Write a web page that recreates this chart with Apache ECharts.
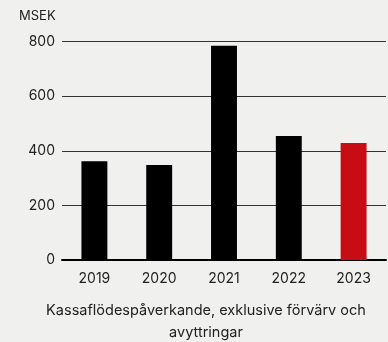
<!DOCTYPE html>
<html>
<head>
<meta charset="utf-8">
<style>
  html, body { margin: 0; padding: 0; background: #f0f0ee; }
  #chart { width: 388px; height: 342px; }
</style>
<script src="https://cdn.jsdelivr.net/npm/echarts@6/dist/echarts.min.js"></script>
</head>
<body>
<div id="chart"></div>
<script>
// Cash-flow impacting figures, excluding acquisitions and divestments (MSEK)
const years = ['2019', '2020', '2021', '2022', '2023'];
const values = [362, 348, 784, 454, 428];
const unitLabel = 'MSEK';
const caption = 'Kassaflödespåverkande, exklusive förvärv och\navyttringar';

const barColor = '#000000';
const highlightColor = '#c70c14';
const font = 'Inter, Roboto, sans-serif';

const chart = echarts.init(document.getElementById('chart'));
chart.setOption({
  backgroundColor: '#f0f0ee',
  animation: false,
  textStyle: { fontFamily: font },
  title: [
    {
      text: unitLabel, left: 19, top: 10, padding: 0,
      textStyle: { fontSize: 13, fontWeight: 'normal', color: '#222', fontFamily: font }
    },
    {
      text: caption, left: 206, top: 300, padding: 0, textAlign: 'center',
      textStyle: { fontSize: 14.5, fontWeight: 'normal', color: '#222', lineHeight: 22, fontFamily: font }
    }
  ],
  grid: { left: 62, right: 2, top: 41.5, bottom: 82, containLabel: false },
  xAxis: {
    type: 'category',
    data: years,
    axisLine: { show: true, lineStyle: { color: '#000', width: 2 } },
    axisTick: { show: false },
    axisLabel: { fontSize: 14, color: '#222', margin: 12, fontFamily: font }
  },
  yAxis: {
    type: 'value',
    min: 0, max: 800, interval: 200,
    axisLine: { show: false },
    axisTick: { show: false },
    axisLabel: { fontSize: 14, color: '#222', margin: 7, fontFamily: font },
    splitLine: { lineStyle: { color: '#333', width: 1 } }
  },
  series: [{
    type: 'bar',
    barWidth: '40%',
    data: values.map((v, i) => ({
      value: v,
      itemStyle: { color: i === values.length - 1 ? highlightColor : barColor }
    }))
  }]
});
</script>
</body>
</html>
